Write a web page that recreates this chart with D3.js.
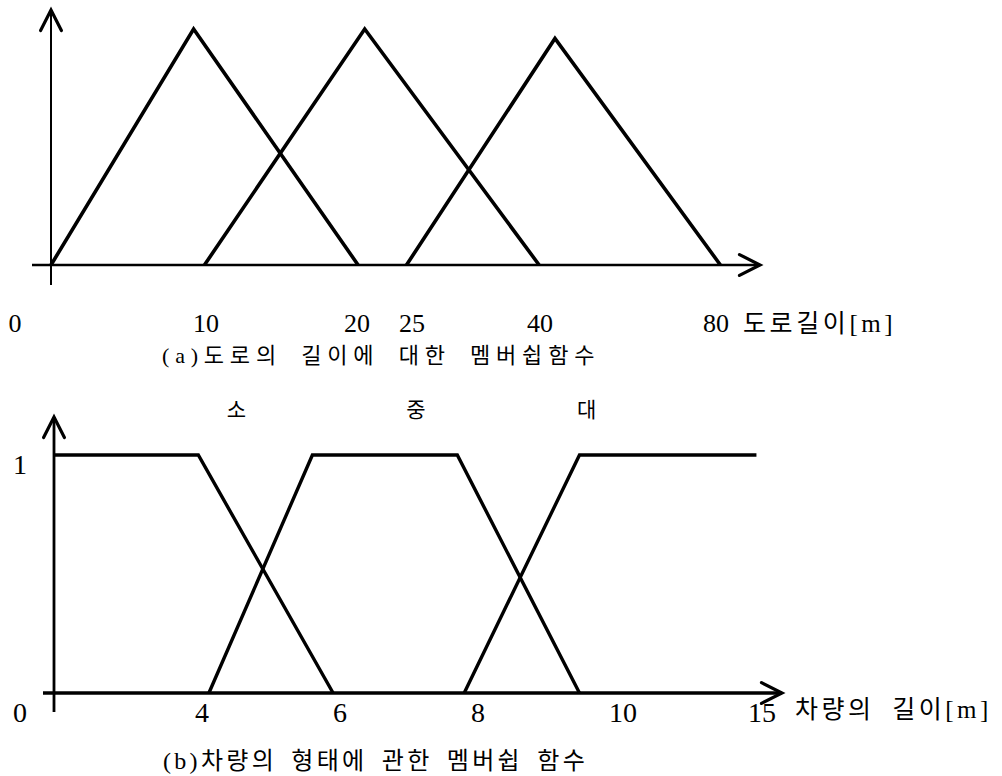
<!DOCTYPE html>
<html>
<head>
<meta charset="utf-8">
<script src="https://cdn.jsdelivr.net/npm/d3@7"></script>
<style>
	body { margin: 0; background: #fff; }
	text { font-family: "Liberation Serif", "Noto Sans CJK KR", serif; fill: #000; }
</style>
</head>
<body>
<div id="chart"></div>
<script>
// (a) road length membership functions
var roadTicks = [0, 10, 20, 25, 40, 80];
var roadSmall = [[0, 0], [9.2, 1], [20.1, 0]];
var roadMedium = [[9.9, 0], [20.7, 1], [39.9, 0]];
var roadLarge = [[24.5, 0], [43.4, 0.96], [81, 0]];

// (b) vehicle length membership functions
var carTicks = [0, 4, 6, 8, 10, 15];
var carSmall = [[0, 1], [3.9, 1], [5.9, 0]];
var carMedium = [[4.1, 0], [5.6, 1], [7.7, 1], [9.4, 0]];
var carLarge = [[7.8, 0], [9.4, 1], [14.8, 1]];
var carSetNames = ["소", "중", "대"];
var carSetPos = [4.5, 7.1, 9.5];

var svg = d3.select("#chart").append("svg")
	.attr("width", 1002)
	.attr("height", 776);

var line = function(x, y) {
	return d3.line().x(function(d){ return x(d[0]); }).y(function(d){ return y(d[1]); });
};

// arrow helper: shaft plus open chevron head
function arrow(g, x1, y1, x2, y2, w) {
	g.append("line")
		.attr("x1", x1).attr("y1", y1).attr("x2", x2).attr("y2", y2)
		.attr("stroke", "#000").attr("stroke-width", w);
	var a = Math.atan2(y2 - y1, x2 - x1), len = 23, spread = 0.47;
	var p = [
		[x2 - len * Math.cos(a - spread), y2 - len * Math.sin(a - spread)],
		[x2, y2],
		[x2 - len * Math.cos(a + spread), y2 - len * Math.sin(a + spread)]
	];
	g.append("path")
		.attr("d", d3.line()(p))
		.attr("fill", "none").attr("stroke", "#000")
		.attr("stroke-width", 3.2).attr("stroke-linecap", "round");
}

// ---------- chart (a) ----------
var xA = d3.scaleLinear().domain(roadTicks).range([51, 206, 357, 412, 540, 716]);
var yA = d3.scaleLinear().domain([0, 1]).range([265, 29]);
var gA = svg.append("g");

arrow(gA, xA(0), 285, xA(0), 10, 2);
arrow(gA, 32, yA(0), 760, yA(0), 2.5);

gA.selectAll(".mf").data([roadSmall, roadMedium, roadLarge]).enter()
	.append("path")
	.attr("d", line(xA, yA))
	.attr("fill", "none").attr("stroke", "#000")
	.attr("stroke-width", 3.6).attr("stroke-linejoin", "miter");

gA.selectAll(".tick").data(roadTicks).enter()
	.append("text")
	.attr("x", function(d){ return d === 0 ? 15 : xA(d); })
	.attr("y", 332)
	.attr("text-anchor", "middle")
	.attr("font-size", 26)
	.text(function(d){ return d; });

gA.append("text")
	.attr("x", 743).attr("y", 332)
	.attr("font-size", 25)
	.attr("letter-spacing", 3.6)
	.text("도로길이[m]");

gA.append("text")
	.attr("x", 162).attr("y", 363)
	.attr("font-size", 22)
	.attr("letter-spacing", 5.8)
	.attr("word-spacing", 8)
	.text("(a)도로의 길이에 대한 멤버쉽함수");

// ---------- chart (b) ----------
var xB = d3.scaleLinear().domain(carTicks).range([54, 202, 340, 478, 623, 762]);
var yB = d3.scaleLinear().domain([0, 1]).range([693, 455]);
var gB = svg.append("g");

arrow(gB, xB(0), 712, xB(0), 417, 2.8);
arrow(gB, 43, yB(0), 782, yB(0), 3.5);

gB.selectAll(".mf").data([carSmall, carMedium, carLarge]).enter()
	.append("path")
	.attr("d", line(xB, yB))
	.attr("fill", "none").attr("stroke", "#000")
	.attr("stroke-width", 3.4).attr("stroke-linejoin", "miter");

gB.selectAll(".setname").data(carSetNames).enter()
	.append("text")
	.attr("x", function(d, i){ return xB(carSetPos[i]); })
	.attr("y", 417)
	.attr("text-anchor", "middle")
	.attr("font-size", 21)
	.text(function(d){ return d; });

gB.selectAll(".tick").data(carTicks).enter()
	.append("text")
	.attr("x", function(d){ return d === 0 ? 20 : xB(d); })
	.attr("y", 722)
	.attr("text-anchor", "middle")
	.attr("font-size", 28)
	.text(function(d){ return d; });

gB.append("text")
	.attr("x", 20).attr("y", yB(1) + 19)
	.attr("text-anchor", "middle")
	.attr("font-size", 28)
	.text("1");

gB.append("text")
	.attr("x", 795).attr("y", 718)
	.attr("font-size", 25)
	.attr("letter-spacing", 3.5)
	.attr("word-spacing", 8)
	.text("차량의 길이[m]");

gB.append("text")
	.attr("x", 163).attr("y", 769)
	.attr("font-size", 24)
	.attr("letter-spacing", 3.3)
	.attr("word-spacing", 5)
	.text("(b)차량의 형태에 관한 멤버쉽 함수");
</script>
</body>
</html>
